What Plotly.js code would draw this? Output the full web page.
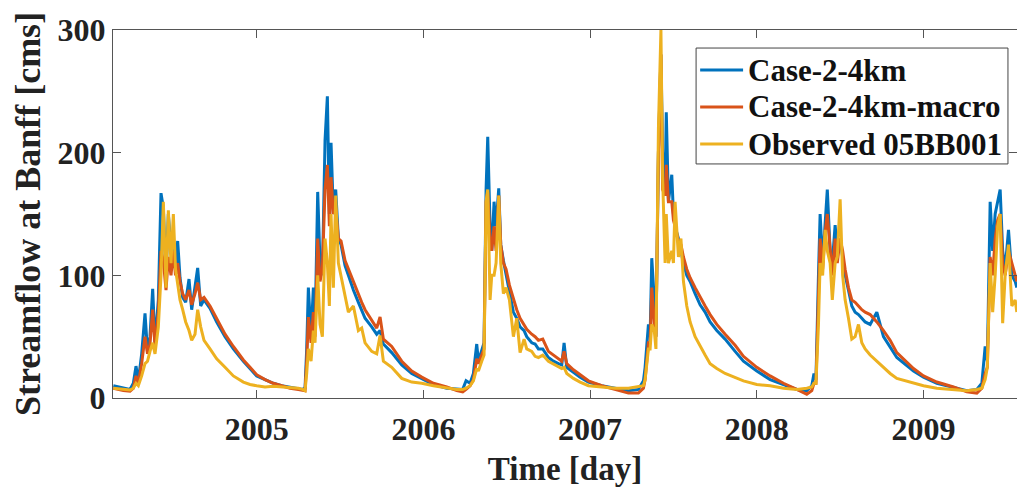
<!DOCTYPE html>
<html>
<head>
<meta charset="utf-8">
<script src="https://cdn.plot.ly/plotly-3.0.1.min.js"></script>
<style>
  html, body { margin: 0; padding: 0; background: #fff; }
  #chart { width: 1017px; height: 492px; }
</style>
</head>
<body>
<div id="chart"></div>
<script>
// time in decimal years
const t = [
2004.14,2004.17,2004.20,2004.24,2004.26,2004.276,2004.29,2004.31,2004.33,2004.345,2004.36,2004.376,2004.39,2004.41,2004.426,2004.44,2004.456,2004.47,2004.486,2004.50,2004.513,2004.526,2004.54,2004.556,2004.574,2004.594,2004.61,2004.63,2004.646,2004.664,2004.684,2004.72,2004.76,2004.81,2004.86,2004.92,2004.96,2005.0,2005.05,2005.10,2005.15,2005.20,2005.25,2005.275,2005.29,2005.30,2005.31,2005.326,2005.34,2005.35,2005.366,2005.38,2005.394,2005.41,2005.424,2005.436,2005.446,2005.46,2005.474,2005.49,2005.506,2005.53,2005.55,2005.58,2005.61,2005.63,2005.65,2005.69,2005.72,2005.74,2005.76,2005.81,2005.87,2005.93,2005.99,2006.06,2006.14,2006.20,2006.236,2006.256,2006.28,2006.30,2006.32,2006.33,2006.35,2006.364,2006.376,2006.386,2006.40,2006.41,2006.424,2006.436,2006.452,2006.464,2006.48,2006.496,2006.516,2006.54,2006.56,2006.58,2006.604,2006.62,2006.65,2006.67,2006.69,2006.716,2006.75,2006.78,2006.81,2006.83,2006.844,2006.86,2006.90,2006.94,2006.99,2007.07,2007.15,2007.23,2007.29,2007.32,2007.33,2007.35,2007.36,2007.37,2007.385,2007.395,2007.41,2007.425,2007.435,2007.45,2007.457,2007.47,2007.49,2007.50,2007.51,2007.53,2007.545,2007.56,2007.58,2007.60,2007.63,2007.66,2007.69,2007.72,2007.76,2007.81,2007.87,2007.92,2008.0,2008.08,2008.16,2008.24,2008.30,2008.33,2008.343,2008.355,2008.37,2008.38,2008.395,2008.41,2008.423,2008.44,2008.453,2008.47,2008.483,2008.50,2008.515,2008.53,2008.55,2008.57,2008.59,2008.61,2008.63,2008.65,2008.68,2008.72,2008.76,2008.80,2008.84,2008.94,2009.0,2009.08,2009.18,2009.26,2009.32,2009.35,2009.37,2009.383,2009.40,2009.415,2009.43,2009.445,2009.46,2009.475,2009.49,2009.51,2009.53,2009.55,2009.56
];
// Case-2-4km
const case4km = [
10,9,8,7,12,26,14,36,69,38,50,89,45,80,167,155,100,150,120,125,105,128,98,82,78,97,72,90,106,75,80,73,62,50,40,30,24,18,15,12,10,9,8,7,8,40,90,50,90,55,168,110,100,210,246,150,208,150,170,130,125,108,100,88,78,72,65,58,52,55,44,37,27,20,16,11,8,7,7,14,12,20,44,30,38,45,170,213,140,120,160,140,171,125,112,100,88,70,65,58,55,50,45,44,40,40,33,30,28,27,45,25,21,17,13,10,8,6,7,14,25,60,50,114,80,50,200,280,200,170,233,160,182,150,140,130,120,110,100,95,85,76,70,62,55,48,38,30,22,15,11,7,6,10,20,15,100,150,110,140,170,120,110,141,120,130,115,100,88,75,70,68,65,62,60,70,50,42,33,22,17,12,9,6,7,12,42,30,160,120,150,160,170,120,105,137,100,95,90
];
// Case-2-4km-macro
const case4kmMacro = [
8,7,6,5.5,8,18,12,28,50,36,44,72,42,70,120,112,88,115,100,120,100,110,95,85,80,88,76,85,94,80,82,75,65,52,42,31,25,19,15,12,10,8,7,6,6,30,66,45,70,50,130,95,105,170,190,140,180,150,155,130,128,112,105,95,84,78,72,64,57,66,48,42,30,22,17,12,9,6,5,7,10,15,32,28,35,40,160,168,130,120,140,120,165,125,110,105,92,80,72,65,60,56,52,50,47,48,38,35,32,30,38,28,23,19,14,10,7,4,4,8,15,45,45,90,60,50,200,280,170,165,190,160,160,145,140,128,125,115,105,98,90,82,75,68,60,52,43,34,25,18,12,7,3,6,12,12,80,130,105,135,150,125,100,130,110,130,120,105,90,80,78,75,72,70,68,62,55,47,37,24,18,13,9,5,4,8,20,25,115,100,130,145,150,110,100,120,110,100,95
];
// Observed 05BB001
const observed = [
8,7.5,7,6.5,8,12,10,18,28,30,38,45,36,58,100,160,90,153,110,150,105,92,80,72,62,55,47,52,72,58,47,40,32,25,18,13,11,10,9,9.5,9,9,8,7,6,20,40,30,55,45,100,60,50,130,110,75,150,90,165,110,100,85,70,75,55,57,45,38,36,51,30,25,16,13,12,10,8,7,7,8,10,14,24,22,30,35,160,170,80,100,100,110,165,110,85,90,80,50,65,37,48,40,38,34,33,35,30,28,26,24,25,20,16,13,10,9,8,8,9,10,15,40,40,60,55,40,220,300,180,110,150,110,120,110,160,115,130,95,75,62,50,42,35,28,24,20,17,14,11,10,8,7,8,9,12,12,60,110,100,137,120,110,80,110,115,162,100,80,65,48,50,60,45,40,35,30,25,20,16,12,10,8,7,6,7,8,15,25,110,70,100,140,150,61,100,125,75,80,70
];
const seriesNames = ['Case-2-4km', 'Case-2-4km-macro', 'Observed 05BB001'];
const seriesColors = ['#0072BD', '#D95319', '#EDB120'];
const yearTicks = [2005, 2006, 2007, 2008, 2009];

const serif = 'Liberation Serif, Times New Roman, serif';
const ys = [case4km, case4kmMacro, observed];
const traces = ys.map((y, i) => ({
  x: t, y: y, type: 'scatter', mode: 'lines', name: seriesNames[i],
  line: {color: seriesColors[i], width: 3}
}));

const axisCommon = {
  showgrid: false, zeroline: false, showline: true, linecolor: '#555', linewidth: 1,
  ticks: 'inside', ticklen: 8, tickcolor: '#555', mirror: 'ticks',
  tickfont: {family: serif, size: 32, color: '#222', weight: 'bold'}
};

// legend box drawn in paper coordinates (boxed legend, upper right)
const legBox = {x0: 0.645, x1: 0.990, y0: 0.636, y1: 0.951};
const legRows = [0.891, 0.791, 0.690];
const legShapes = [{
  type: 'rect', xref: 'paper', yref: 'paper',
  x0: legBox.x0, x1: legBox.x1, y0: legBox.y0, y1: legBox.y1,
  line: {color: '#444', width: 1}, fillcolor: '#fff', layer: 'above'
}];
const legAnns = [];
seriesNames.forEach((name, i) => {
  legShapes.push({
    type: 'line', xref: 'paper', yref: 'paper',
    x0: 0.6495, x1: 0.697, y0: legRows[i], y1: legRows[i],
    line: {color: seriesColors[i], width: 3}, layer: 'above'
  });
  legAnns.push({
    xref: 'paper', yref: 'paper', x: 0.7005, y: legRows[i],
    xanchor: 'left', yanchor: 'middle', showarrow: false, text: name,
    font: {family: serif, size: 31, color: '#111', weight: 'bold'}
  });
});

const layout = {
  width: 1017, height: 492,
  margin: {l: 113, r: 0, t: 30, b: 94},
  paper_bgcolor: '#fff', plot_bgcolor: '#fff',
  showlegend: false,
  xaxis: Object.assign({}, axisCommon, {
    range: [2004.138, 2009.561],
    tickvals: yearTicks, ticktext: yearTicks.map(String),
    ticklabelstandoff: 3,
    title: {text: 'Time [day]', font: {family: serif, size: 33, color: '#222', weight: 'bold'}, standoff: 10}
  }),
  yaxis: Object.assign({}, axisCommon, {
    range: [0, 300], tickvals: [0, 100, 200, 300],
    title: {text: 'Streamflow at Banff [cms]', font: {family: serif, size: 36, color: '#222', weight: 'bold'}, standoff: 5}
  }),
  shapes: legShapes,
  annotations: legAnns
};

Plotly.newPlot('chart', traces, layout, {staticPlot: true, displayModeBar: false});
</script>
</body>
</html>
